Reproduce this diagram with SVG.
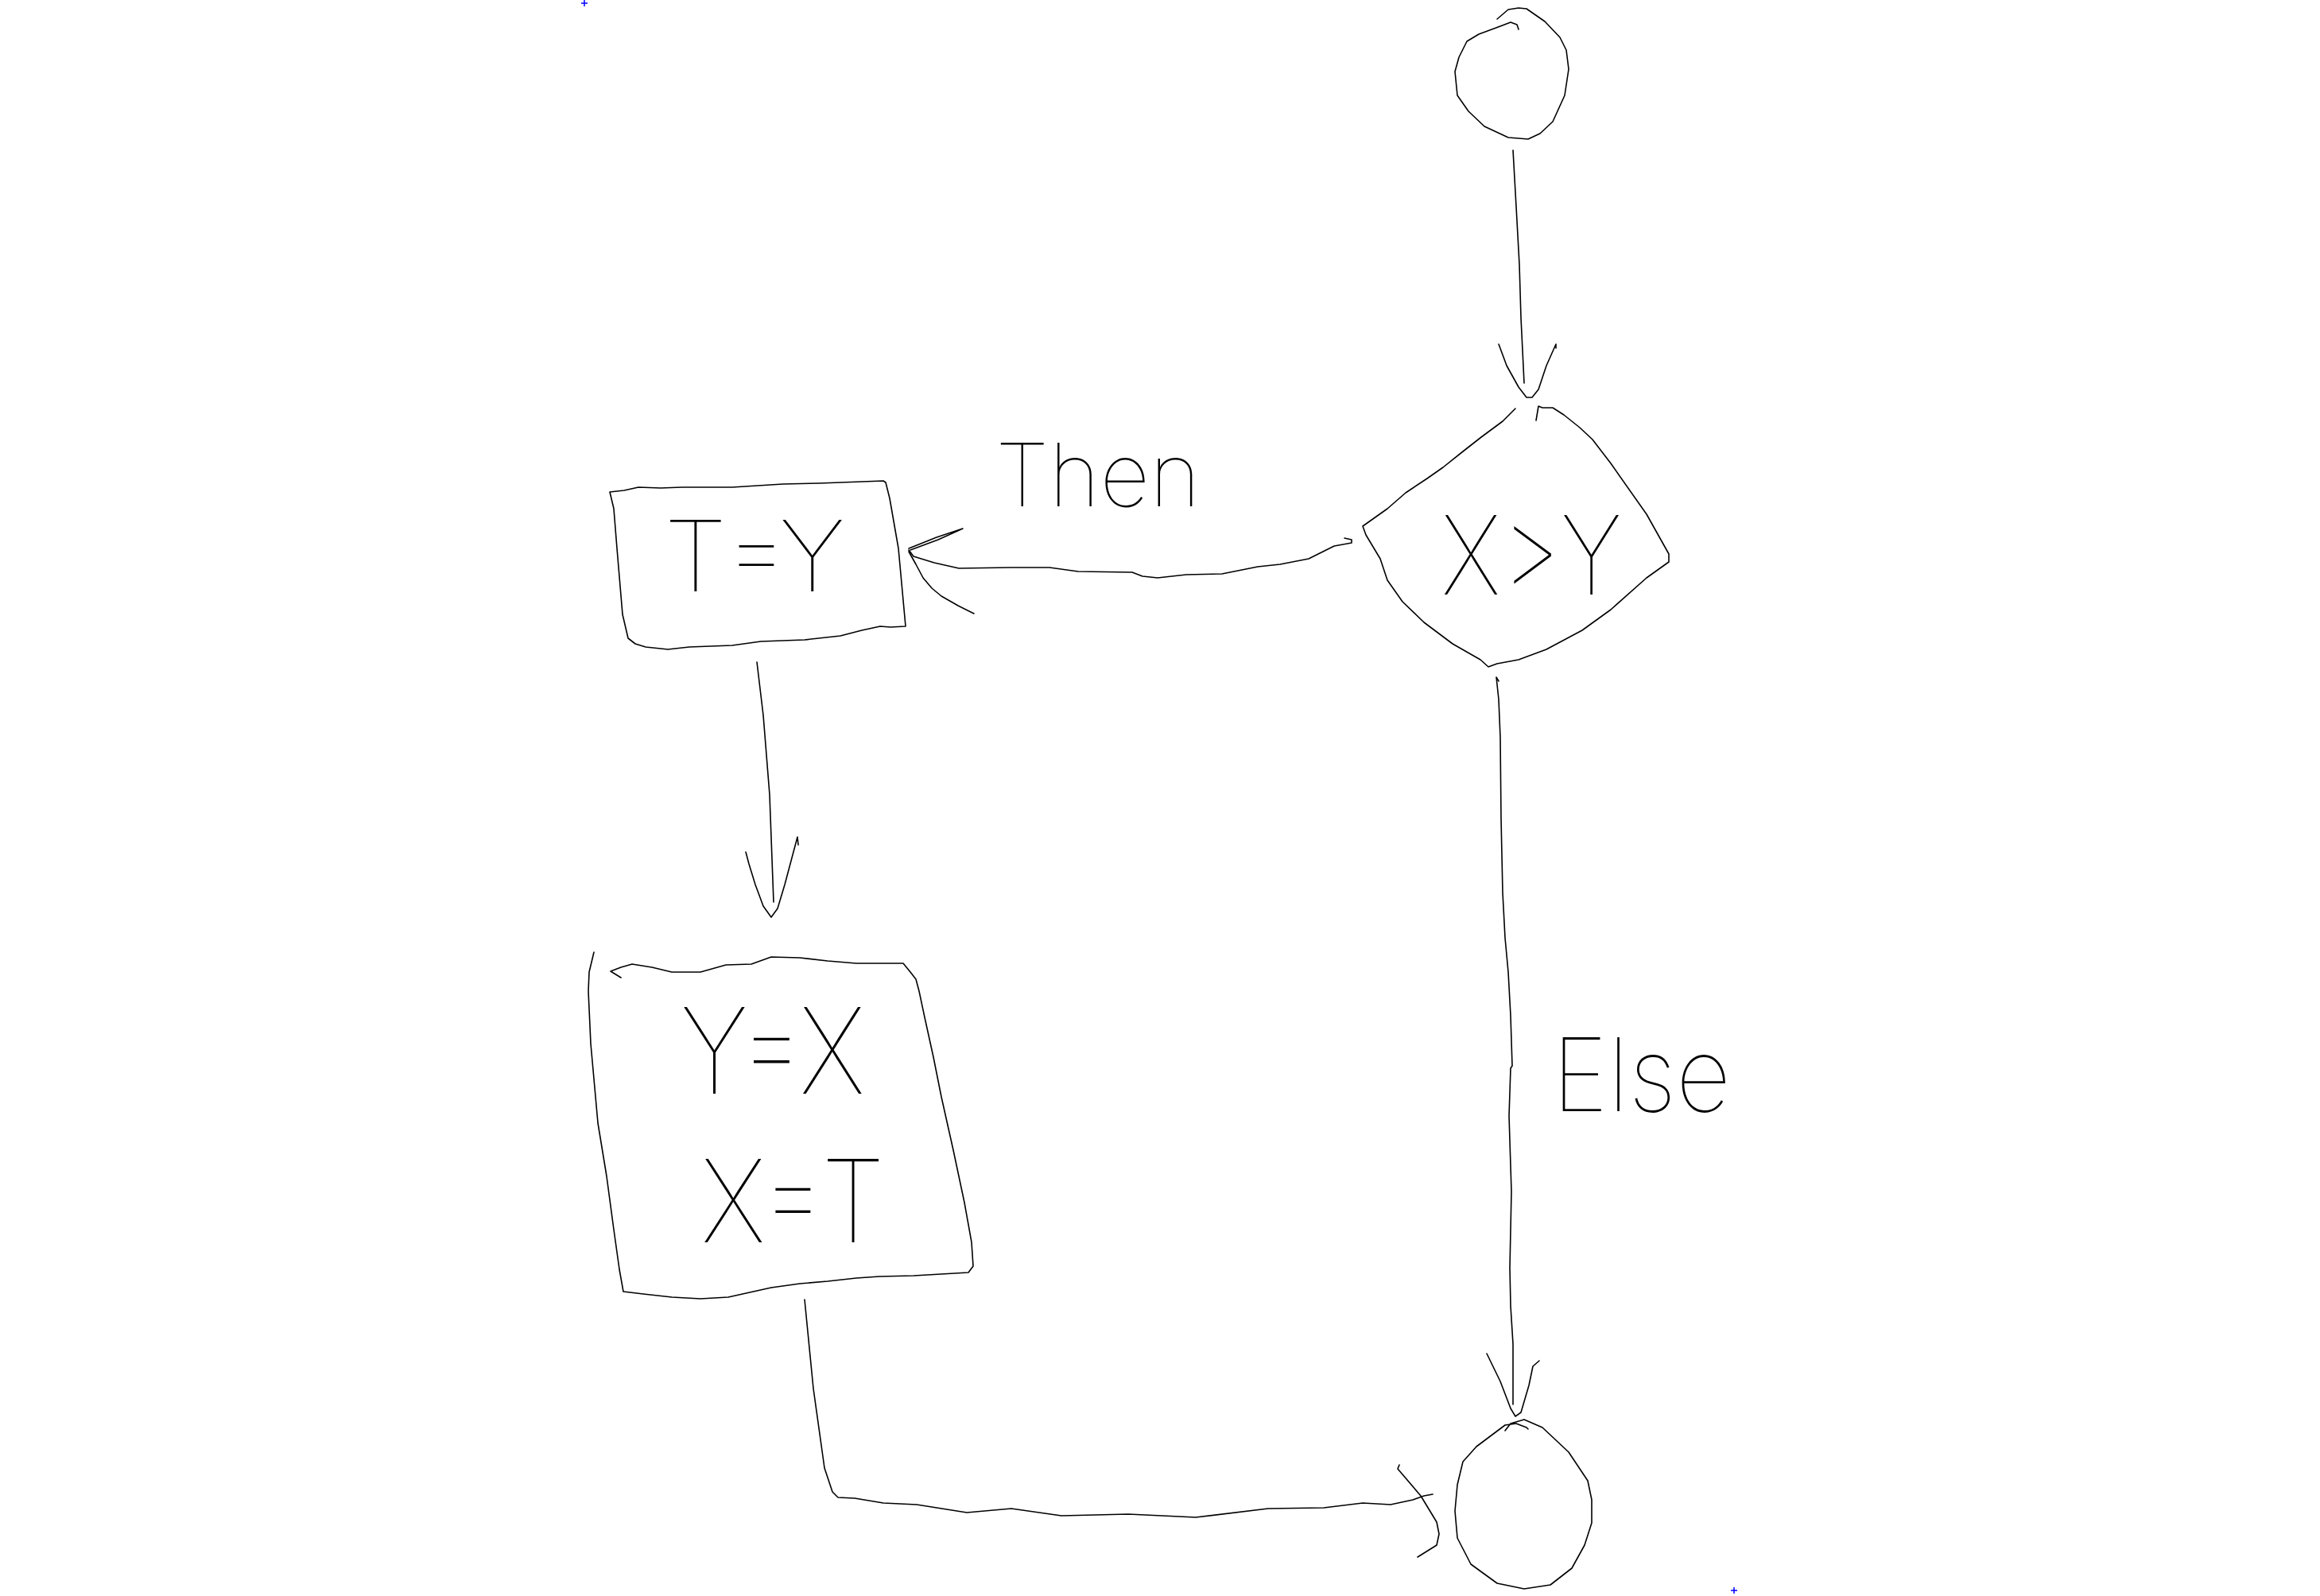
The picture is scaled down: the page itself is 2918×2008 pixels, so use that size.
<svg xmlns="http://www.w3.org/2000/svg" width="2918" height="2008" viewBox="0 0 2918 2008">
<style>
.s{fill:none;stroke:#000;stroke-width:1.6;stroke-linejoin:round;stroke-linecap:round}
.t{font-family:Inter,Lato,"Open Sans","Liberation Sans",sans-serif;font-weight:100;fill:#000}
.m{fill:none;stroke:#0000ff;stroke-width:1.5}
</style>
<rect width="2918" height="2008" fill="#fff"/>
<path class="m" d="M731,4 h8 M735,0 v8 M2177,2001 h8 M2181,1997 v8"/>
<g id="node-start">
<path class="s" d="M1910,37 L1908,31 L1900,28 L1887,33 L1860,43 L1845,52 L1835,72 L1830,90 L1833,120 L1847,140 L1867,159 L1897,173 L1922,175 L1937,168 L1953,153 L1968,120 L1973,87 L1970,63 L1962,47 L1943,27 L1920,11 L1910,10 L1897,12 L1883,24"/>
</g>
<g id="node-decision">
<path class="s" d="M1906,514 L1890,530 L1863,550 L1840,568 L1815,588 L1795,602 L1768,620 L1745,640 L1714,662 L1718,673 L1736,703 L1745,730 L1764,757 L1791,783 L1827,810 L1862,830 L1872,839 L1883,835 L1910,830 L1945,817 L1990,793 L2026,767 L2071,727 L2099,707 L2099,697 L2071,647 L2026,583 L2003,553 L1987,538 L1967,522 L1953,513 L1940,513 L1935,511 L1932,529"/>
<text class="t" x="1813" y="748" font-size="137" textLength="227" lengthAdjust="spacingAndGlyphs">X&gt;Y</text>
</g>
<g id="node-then">
<path class="s" d="M767,619 L785,617 L803,613 L831,614 L858,613 L921,613 L985,609 L1030,608 L1084,606 L1111,605 L1114,607 L1119,627 L1130,690 L1139,788 L1120,789 L1107,788 L1084,793 L1057,800 L1012,805 L957,807 L921,812 L867,814 L840,817 L812,814 L799,810 L790,803 L783,773 L776,690 L772,640 L767,619"/>
<text class="t" x="835" y="744" font-size="124" textLength="228" lengthAdjust="spacingAndGlyphs">T=Y</text>
</g>
<g id="node-swap">
<path class="s" d="M747,1198 L741,1223 L740,1247 L743,1313 L752,1413 L763,1480 L772,1547 L779,1597 L784,1625 L809,1628 L845,1632 L881,1634 L916,1632 L970,1620 L1006,1615 L1041,1612 L1077,1608 L1106,1606 L1149,1605 L1218,1601 L1224,1593 L1222,1563 L1213,1513 L1199,1447 L1184,1380 L1174,1330 L1163,1280 L1156,1247 L1152,1232 L1145,1223 L1136,1212 L1077,1212 L1041,1209 L1006,1205 L970,1204 L945,1213 L913,1214 L881,1223 L845,1223 L820,1217 L795,1213 L781,1217 L768,1222 L781,1230"/>
<text class="t" x="856" y="1376" font-size="150" textLength="232" lengthAdjust="spacingAndGlyphs">Y=X</text>
<text class="t" x="882" y="1563" font-size="145" textLength="231" lengthAdjust="spacingAndGlyphs">X=T</text>
</g>
<g id="node-end">
<path class="s" d="M1893,1800 L1900,1791 L1917,1786 L1940,1796 L1973,1827 L1997,1863 L2002,1887 L2002,1916 L1993,1944 L1977,1973 L1950,1994 L1917,1999 L1883,1992 L1850,1968 L1833,1935 L1830,1901 L1833,1868 L1840,1839 L1857,1820 L1877,1805 L1893,1793 L1907,1791 L1920,1796 L1922,1798"/>
</g>
<g id="connectors">
<path class="s" d="M1903,189 L1907,260 L1911,333 L1913,400 L1917,482"/>
<path class="s" d="M1885,433 L1895,460 L1910,487 L1920,500 L1927,500 L1935,490 L1945,460 L1957,433 L1957,438"/>
<path class="s" d="M1691,677 L1700,679 L1700,683 L1678,687 L1646,703 L1610,710 L1582,713 L1537,722 L1492,723 L1456,727 L1437,725 L1424,720 L1356,719 L1320,714 L1274,714 L1206,715 L1175,708 L1149,700 L1143,692"/>
<path class="s" d="M1143,690 L1178,676 L1211,665 L1180,679 L1145,692"/>
<path class="s" d="M1143,694 L1152,710 L1161,727 L1172,740 L1184,750 L1205,762 L1225,772"/>
<path class="s" d="M952,833 L960,900 L968,1000 L973,1135"/>
<path class="s" d="M938,1072 L942,1087 L950,1113 L960,1140 L970,1154 L978,1143 L987,1113 L995,1083 L1003,1053 L1004,1063"/>
<path class="s" d="M1012,1635 L1023,1747 L1037,1847 L1047,1877 L1054,1884 L1075,1885 L1111,1891 L1153,1893 L1216,1903 L1272,1898 L1335,1907 L1419,1905 L1504,1909 L1595,1898 L1665,1897 L1714,1891 L1749,1893 L1777,1887 L1791,1882 L1802,1880"/>
<path class="s" d="M1760,1843 L1758,1848 L1787,1882 L1807,1915 L1810,1930 L1807,1944 L1783,1959"/>
<path class="s" d="M1885,857 L1882,852 L1885,880 L1887,928 L1888,1030 L1890,1123 L1893,1180 L1897,1223 L1900,1278 L1902,1341 L1900,1344 L1898,1404 L1901,1499 L1899,1595 L1900,1643 L1903,1691 L1903,1767"/>
<path class="s" d="M1870,1703 L1887,1738 L1900,1772 L1906,1782 L1913,1777 L1923,1743 L1928,1719 L1936,1712"/>
</g>
<g id="labels">
<text class="t" x="1252" y="637" font-size="110" textLength="258" lengthAdjust="spacingAndGlyphs">Then</text>
<text class="t" x="1952" y="1398" font-size="128" textLength="225" lengthAdjust="spacingAndGlyphs">Else</text>
</g>
</svg>
